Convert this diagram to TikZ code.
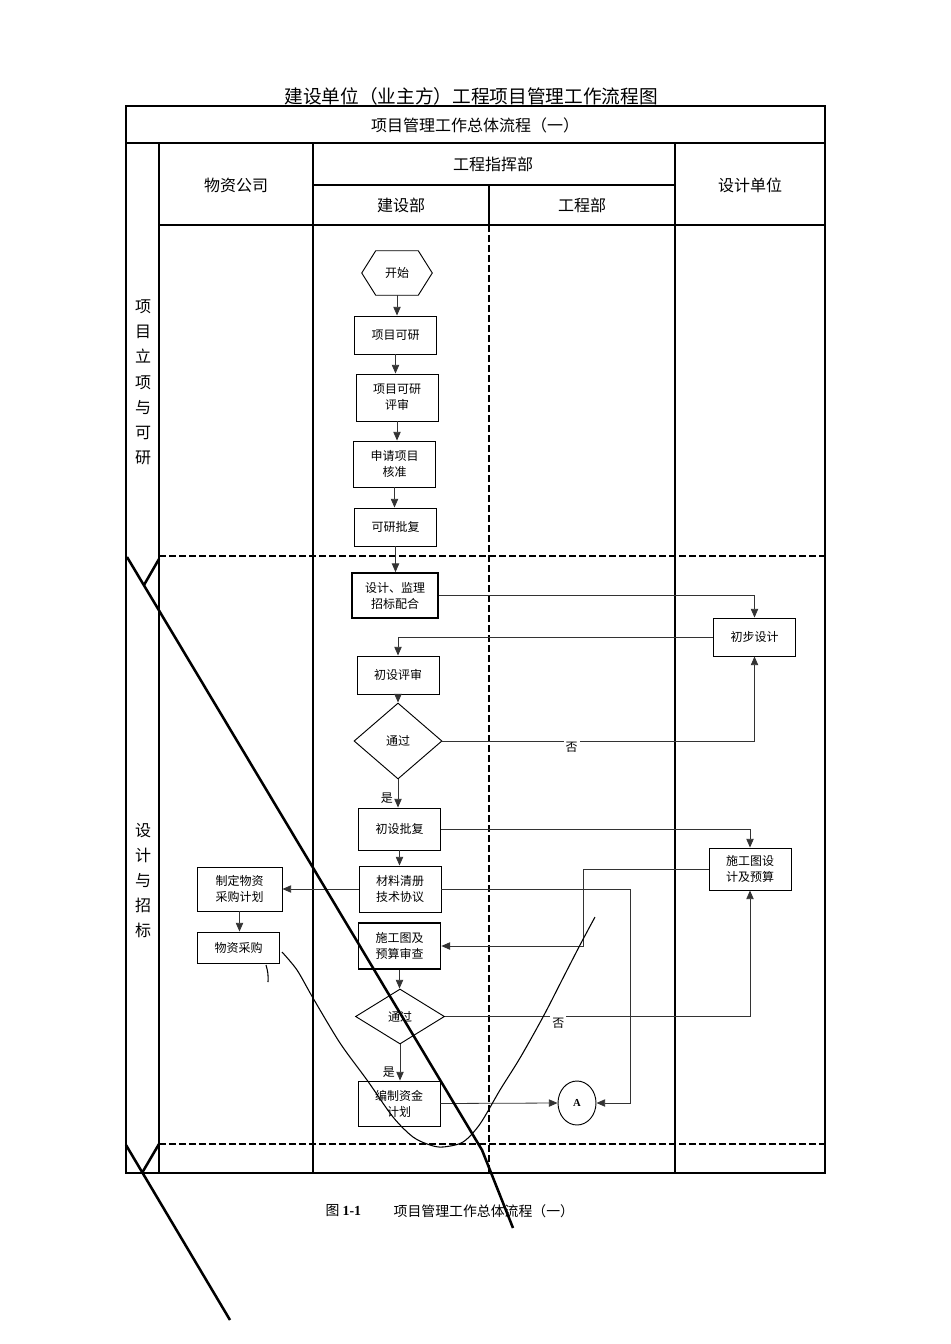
\documentclass[tikz,border=0pt]{standalone}
\usepackage{fontspec}
\setmainfont{Noto Sans CJK SC}
\newfontfamily\latinserif{Liberation Serif}
\usetikzlibrary{shapes.geometric,arrows.meta}

\begin{document}
\begin{tikzpicture}[x=0.75pt,y=-0.75pt]
\tikzset{
    box/.style={draw, line width=0.7pt, minimum width=61.5pt, minimum height=28.5pt, inner sep=1pt, align=center, font=\fontsize{9}{12}\selectfont},
    tallbox/.style={box, minimum height=34.5pt},
    dec/.style={diamond, draw, line width=0.7pt, inner sep=0pt, font=\fontsize{9}{12}\selectfont},
    arr/.style={-{Triangle[length=6.5pt,width=5.5pt]}, line width=0.6pt, draw=black!80},
    lbl/.style={font=\fontsize{9}{10}\selectfont, inner sep=1.5pt},
    tab/.style={line width=1.5pt},
    dline/.style={line width=2.1pt, dash pattern=on 5pt off 2.5pt},
    hdr/.style={font=\fontsize{12}{14}\selectfont},
    pen/.style={line width=1.9pt}
}
\useasboundingbox (0,0) rectangle (950,1344);

% --- table ---
\draw[tab] (126,106) rectangle (825,1173);
\draw[tab] (126,143) -- (825,143);
\draw[tab] (159,143) -- (159,1173);
\draw[tab] (313,143) -- (313,1173);
\draw[tab] (675,143) -- (675,1173);
\draw[tab] (313,185) -- (675,185);
\draw[tab] (489,185) -- (489,225);
\draw[tab] (159,225) -- (825,225);
\draw[dline] (489,225) -- (489,1173);
\draw[dline] (159,556) -- (825,556);
\draw[dline] (159,1144) -- (825,1144);

% --- headings ---
\node[font=\fontsize{14}{16}\selectfont] (ttl) at (471,96) {建设单位（业主方）工程项目管理工作流程图};
\node[hdr] (zlc) at (475,125) {项目管理工作总体流程（一）};
\node[hdr] (wzgs) at (236,185) {物资公司};
\node[hdr] (gczh) at (493,164) {工程指挥部};
\node[hdr] (sjdw) at (750,185) {设计单位};
\node[hdr] (jsb) at (401,205) {建设部};
\node[hdr] (gcb) at (582,205) {工程部};
\node[align=center, font=\fontsize{12}{18.9}\selectfont] (jd1) at (143,382.5) {项\\目\\立\\项\\与\\可\\研};
\node[align=center, font=\fontsize{12}{18.75}\selectfont] (jd2) at (143,881) {设\\计\\与\\招\\标};

% --- nodes ---
\node[minimum width=52.5pt, minimum height=33pt, inner sep=0pt, font=\fontsize{9}{12}\selectfont] (ks) at (397,273) {开始};
\draw[line width=0.7pt] ([xshift=10.5pt]ks.north west) -- ([xshift=-10.5pt]ks.north east) -- (ks.east)
    -- ([xshift=-10.5pt]ks.south east) -- ([xshift=10.5pt]ks.south west) -- (ks.west) -- cycle;
\node[box] (xmky) at (395.5,335) {项目可研};
\node[tallbox, minimum height=35.25pt] (kyps) at (397,397.5) {项目可研\\评审};
\node[tallbox] (sqhz) at (394.5,464) {申请项目\\核准};
\node[box] (kypf) at (395.5,527) {可研批复};
\node[tallbox, line width=1.3pt, minimum width=64.5pt, minimum height=33.75pt] (sjjl) at (395,595.5) {设计、监理\\招标配合};
\node[box] (cbsj) at (754.5,637) {初步设计};
\node[box] (cbps) at (398,675) {初设评审};
\node[dec, minimum width=66pt, minimum height=57pt] (tg1) at (398,741) {通过};
\node[box, minimum height=31.5pt] (cbpf) at (399.5,829) {初设批复};
\node[tallbox, minimum height=31.5pt] (sgsj) at (750,869) {施工图设\\计及预算};
\node[tallbox] (clqc) at (400,889) {材料清册\\技术协议};
\node[tallbox, minimum width=63.75pt, minimum height=33pt] (zdjh) at (239.5,889) {制定物资\\采购计划};
\node[box, minimum height=23.25pt] (wzcg) at (238.5,947.5) {物资采购};
\node[tallbox, line width=1.3pt] (sgsc) at (399.5,946) {施工图及\\预算审查};
\node[dec, minimum width=66.75pt, minimum height=41.25pt] (tg2) at (400,1016.5) {通过};
\node[tallbox, minimum height=33.75pt] (bzzj) at (399,1103.5) {编制资金\\计划};
\node[ellipse, draw, line width=0.7pt, minimum width=28.5pt, minimum height=33pt, inner sep=0pt, font=\latinserif\bfseries\fontsize{8}{8}\selectfont] (ca) at (577,1103) {A};

\coordinate (k1) at (630,889);
\coordinate (k2) at (583,869);

% --- connectors ---
\draw[arr] (ks) -- (ks |- xmky.north);
\draw[arr] (xmky) -- (xmky |- kyps.north);
\draw[arr] (kyps) -- (kyps |- sqhz.north);
\draw[arr] (sqhz) -- (sqhz |- kypf.north);
\draw[arr] (kypf) -- (kypf |- sjjl.north);
\draw[arr] (sjjl.east) -| (cbsj.north);
\draw[arr] (cbsj.west) -| (cbps.north);
\draw[arr] (cbps) -- (cbps |- tg1.north);
\draw[arr] (tg1.east) -| (cbsj.south) node[lbl, fill=white, pos=0.207, yshift=-5pt] {否};
\draw[arr] (tg1) -- (tg1 |- cbpf.north) node[lbl, pos=0.65, left=2pt] {是};
\draw[arr] (cbpf.east) -| (sgsj.north);
\draw[arr] (cbpf) -- (cbpf |- clqc.north);
\draw[arr] (clqc.west) -- (zdjh.east);
\draw[arr] (zdjh) -- (zdjh |- wzcg.north);
\draw[arr] (clqc.east) -- (k1) |- (ca.east);
\draw[arr] (sgsj.west) -- (k2) |- (sgsc.east);
\draw[arr] (sgsc) -- (sgsc |- tg2.north);
\draw[arr] (tg2.east) -| (sgsj.south) node[lbl, fill=white, pos=0.186, yshift=-5pt] {否};
\draw[arr] (tg2) -- (tg2 |- bzzj.north) node[lbl, pos=0.78, left=2pt] {是};
\draw[arr] (bzzj.east) -- (ca.west);

% --- stray pen marks ---
\draw[pen] (127,557) -- (482,1150) -- (513,1228);
\draw[pen] (144,585) -- (159,559);
\draw[pen] (142,1173) -- (159,1144);
\draw[pen] (126,1145) -- (230,1320);
\draw[line width=0.8pt] plot[smooth] coordinates {(282,952) (297,970) (313,998) (340,1043) (367,1080) (393,1117) (413,1137) (430,1145) (443,1147) (463,1142) (480,1124) (500,1090) (520,1058) (543,1017) (562,980) (580,945) (595,917)};
\draw[line width=0.8pt] (266,965) to[bend left=10] (268,982);

% --- caption ---
\node[anchor=west, font=\fontsize{10.4}{12}\selectfont] (tuhao) at (321,1211) {图 {\latinserif\bfseries 1-1}};
\node[anchor=west, font=\fontsize{10.4}{12}\selectfont] (tuming) at (389,1211) {项目管理工作总体流程（一）};
\end{tikzpicture}
\end{document}
